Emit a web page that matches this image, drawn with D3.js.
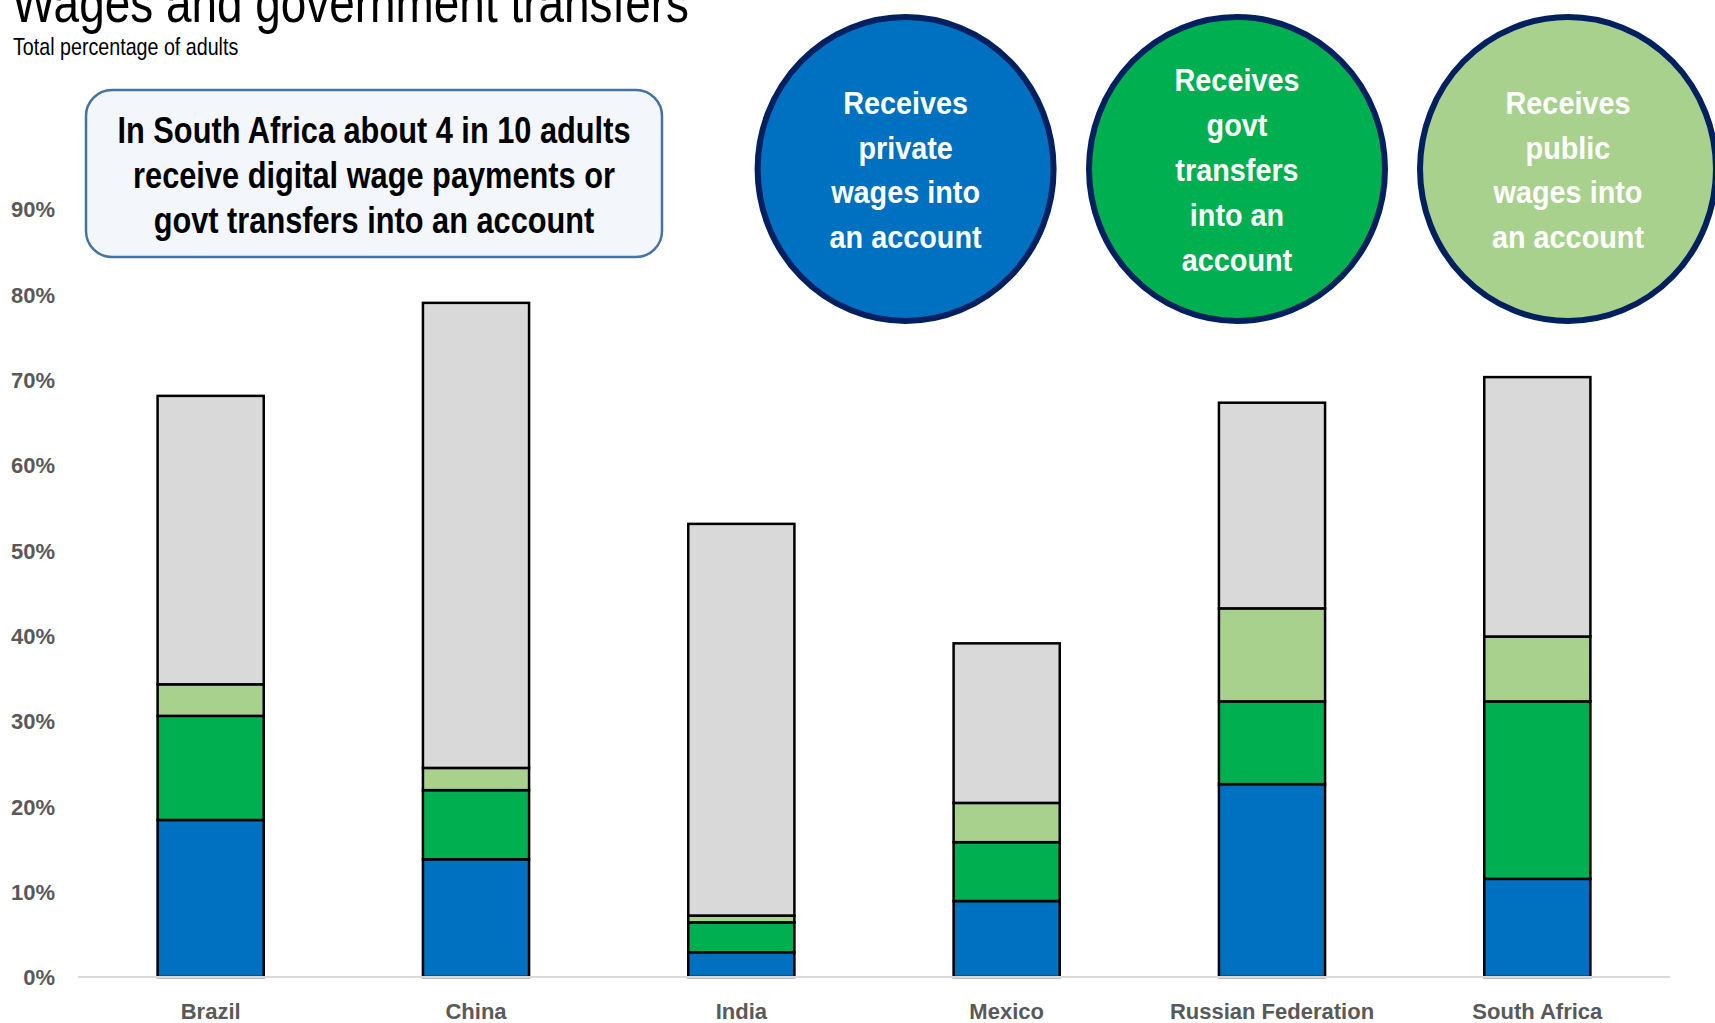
<!DOCTYPE html>
<html>
<head>
<meta charset="utf-8">
<script src="https://cdn.jsdelivr.net/npm/d3@7"></script>
<style>
  html, body { margin: 0; padding: 0; background: #ffffff; }
  svg { display: block; }
  text { font-family: "Liberation Sans", Arial, sans-serif; }
</style>
</head>
<body>
<div id="chart"></div>
<script>
// ---- Data ----
const categories = ["Brazil", "China", "India", "Mexico", "Russian Federation", "South Africa"];
const privateWages  = [18.4, 13.8, 2.9, 8.9, 22.6, 11.5];
const govtTransfers = [12.2,  8.1, 3.5, 6.9,  9.7, 20.8];
const publicWages   = [ 3.7,  2.6, 0.8, 4.6, 10.9,  7.6];
const otherAccount  = [33.8, 54.5, 45.9, 18.7, 24.1, 30.4];
const seriesKeys = ["private", "govt", "public", "other"];
const seriesColors = ["#0070C0", "#00B050", "#A9D18E", "#D9D9D9"];
const yTickValues = [0, 10, 20, 30, 40, 50, 60, 70, 80, 90];

const titleText = "Wages and government transfers";
const subtitleText = "Total percentage of adults";
const calloutLines = ["In South Africa about 4 in 10 adults", "receive digital wage payments or", "govt transfers into an account"];
const legendLabels = [
  ["Receives", "private", "wages into", "an account"],
  ["Receives", "govt", "transfers", "into an", "account"],
  ["Receives", "public", "wages into", "an account"]
];

// ---- Setup ----
const W = 1715, H = 1023;
const svg = d3.select("#chart").append("svg").attr("width", W).attr("height", H);
svg.append("rect").attr("width", W).attr("height", H).attr("fill", "#ffffff");

const plotLeft = 78, plotRight = 1670, plotBottom = 977, plotTop = 209;

const x = d3.scaleBand().domain(categories).range([plotLeft, plotRight]).paddingInner(0.6).paddingOuter(0.3);
const y = d3.scaleLinear().domain([0, 90]).range([plotBottom, plotTop]);

function addText(parent, tx, ty, str, o) {
  return parent.append("text")
    .attr("transform", `translate(${tx},${ty}) scale(${o.sx || 1},1)`)
    .attr("text-anchor", o.anchor || "start")
    .attr("font-size", o.size)
    .attr("font-weight", o.weight || "normal")
    .attr("fill", o.fill || "#000")
    .text(str);
}

// ---- Title ----
addText(svg, 12, 22, titleText, {size: 56, sx: 0.82});
addText(svg, 13, 55, subtitleText, {size: 24, sx: 0.82});

// ---- Stacked bars ----
const rows = categories.map((c, i) => ({
  cat: c, private: privateWages[i], govt: govtTransfers[i], public: publicWages[i], other: otherAccount[i]
}));
const stacked = d3.stack().keys(seriesKeys)(rows);

const barsG = svg.append("g");
stacked.forEach((layer, li) => {
  barsG.append("g").selectAll("rect").data(layer).join("rect")
    .attr("x", d => x(d.data.cat))
    .attr("width", x.bandwidth())
    .attr("y", d => y(d[1]))
    .attr("height", d => y(d[0]) - y(d[1]))
    .attr("fill", seriesColors[li])
    .attr("stroke", "#000")
    .attr("stroke-width", 2.5);
});

// ---- Axes ----
svg.append("line").attr("x1", plotLeft).attr("x2", plotRight)
  .attr("y1", y(0)).attr("y2", y(0)).attr("stroke", "#D9D9D9").attr("stroke-width", 2);

const yAxis = d3.axisLeft(y).tickValues(yTickValues).tickSize(0).tickPadding(0).tickFormat(d => d + "%");
const yG = svg.append("g").attr("transform", `translate(55,0)`).call(yAxis);
yG.select(".domain").remove();
yG.selectAll("text").attr("font-size", 22).attr("font-weight", "bold").attr("fill", "#595959")
  .attr("font-family", "'Liberation Sans', Arial, sans-serif").attr("dy", "0.36em");

const xAxis = d3.axisBottom(x).tickSize(0).tickPadding(0);
const xG = svg.append("g").attr("transform", `translate(0,${y(0)})`).call(xAxis);
xG.select(".domain").remove();
xG.selectAll("text").attr("font-size", 22).attr("font-weight", "bold").attr("fill", "#595959")
  .attr("font-family", "'Liberation Sans', Arial, sans-serif").attr("dy", null).attr("y", 42);

// ---- Callout box ----
const box = {x: 86, y: 90, w: 576, h: 167};
svg.append("rect").attr("x", box.x).attr("y", box.y).attr("width", box.w).attr("height", box.h)
  .attr("rx", 26).attr("ry", 26).attr("fill", "#F3F7FC").attr("stroke", "#4472A4").attr("stroke-width", 2.5);
calloutLines.forEach((ln, i) => {
  addText(svg, box.x + box.w / 2, 143 + i * 45, ln, {size: 37.5, weight: "bold", anchor: "middle", sx: 0.82});
});

// ---- Legend circles ----
const legendCx = [905.6, 1237, 1568];
const legendCy = 169;
legendCx.forEach((cx, i) => {
  svg.append("ellipse").attr("cx", cx).attr("cy", legendCy).attr("rx", 148).attr("ry", 152)
    .attr("fill", seriesColors[i]).attr("stroke", "#002060").attr("stroke-width", 6);
  const lines = legendLabels[i];
  const lh = 44.8;
  const first = legendCy + 12 - (lines.length - 1) * lh / 2;
  lines.forEach((ln, j) => {
    addText(svg, cx, first + j * lh, ln, {size: 32, weight: "bold", anchor: "middle", fill: "#ffffff", sx: 0.9});
  });
});
</script>
</body>
</html>
